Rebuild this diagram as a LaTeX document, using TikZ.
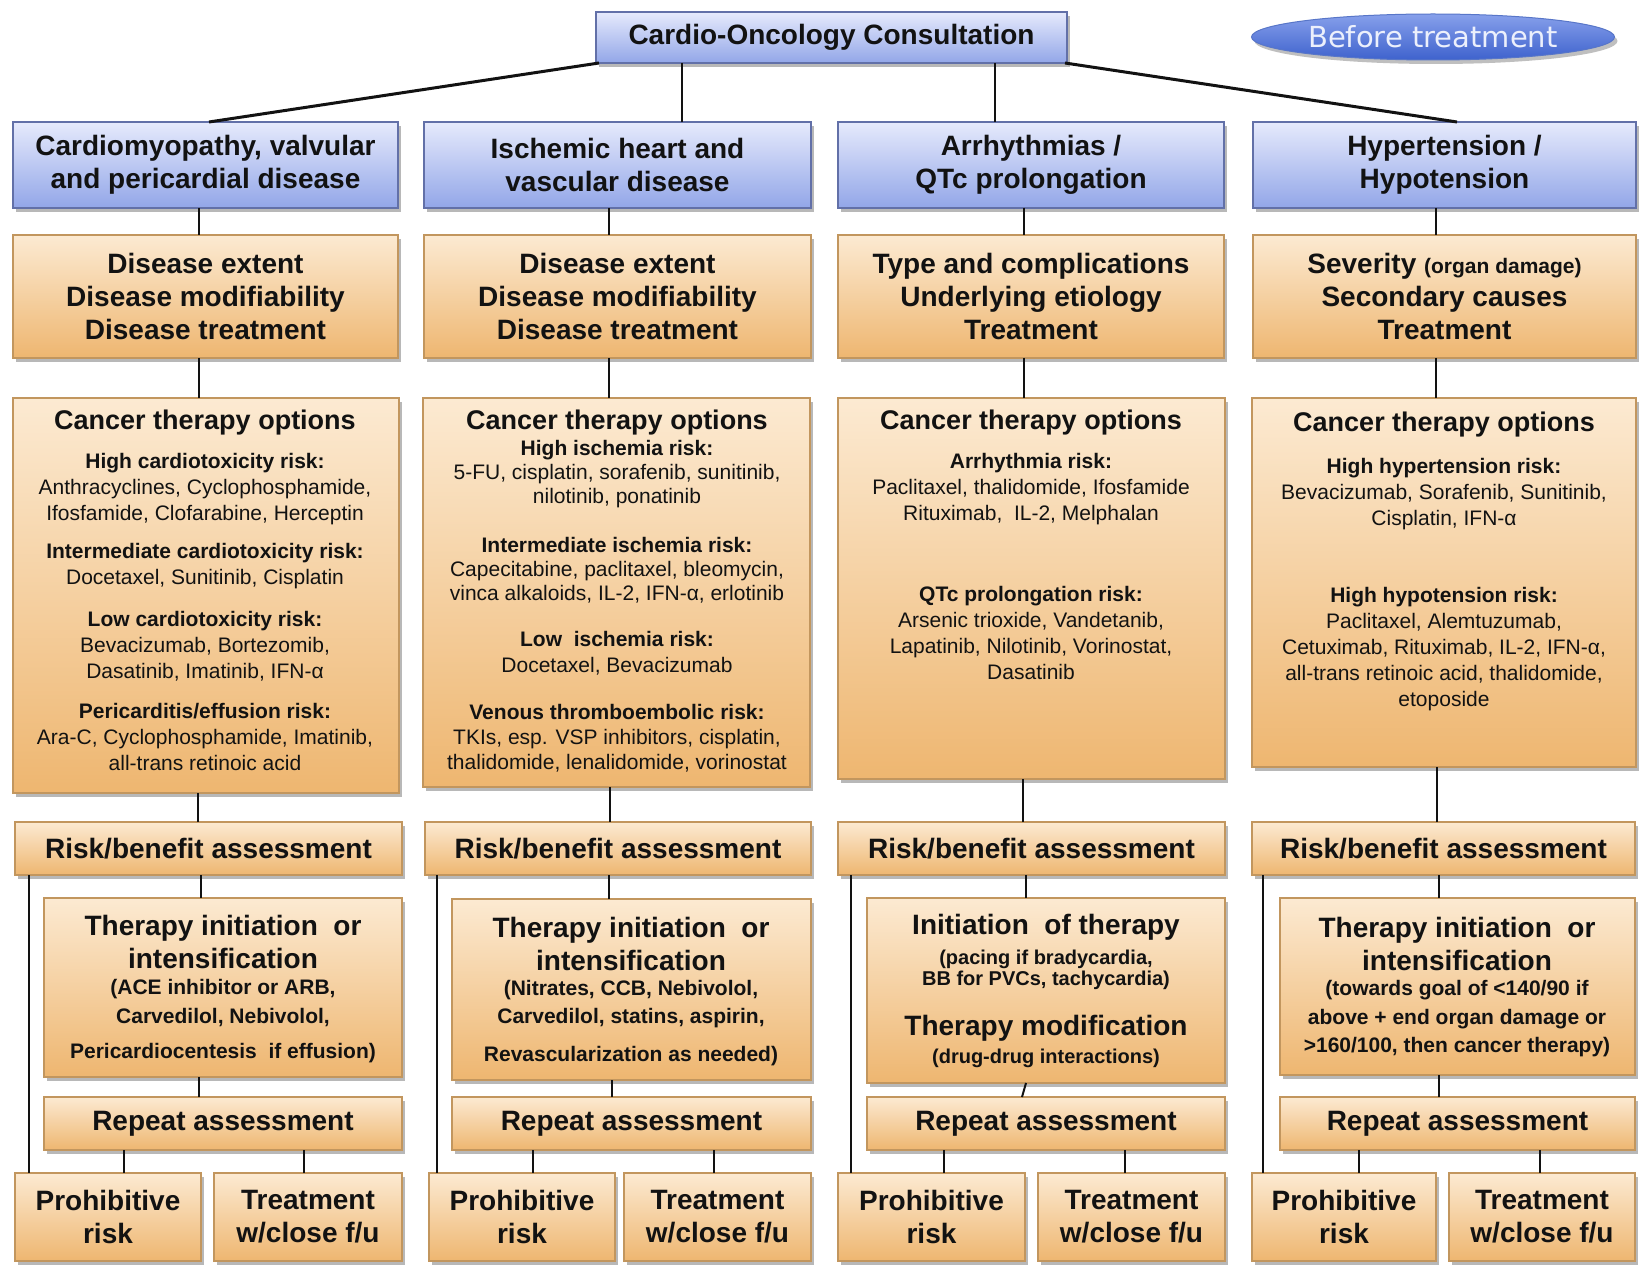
\documentclass[tikz,border=0pt]{standalone}
\usepackage{fontspec}
\setmainfont{Liberation Sans}
\newfontfamily\ovalfont{DejaVu Sans}
\usetikzlibrary{shapes.geometric,shadows}

\definecolor{blueTop}{RGB}{230,234,252}
\definecolor{blueBot}{RGB}{146,166,232}
\definecolor{blueEdge}{RGB}{98,112,168}
\definecolor{orTop}{RGB}{252,234,210}
\definecolor{orBot}{RGB}{238,182,112}
\definecolor{orEdge}{RGB}{194,150,94}
\definecolor{ink}{RGB}{18,18,18}
\definecolor{ellTop}{RGB}{135,160,235}
\definecolor{ellBot}{RGB}{62,98,205}
\definecolor{ellEdge}{RGB}{88,118,200}
\definecolor{ellText}{RGB}{236,240,252}

\tikzset{
  % box given by its corners: left/top/right/bottom
  boxat/.style args={#1/#2/#3/#4}{at={({(#1+#3)/2},{(#2+#4)/2})},
    minimum width={(#3-#1)*1pt}, minimum height={(#4-#2)*1pt}},
  boxbase/.style={rectangle, inner sep=0pt, outer sep=0pt, line width=1.2pt,
    text=ink, align=center,
    drop shadow={shadow xshift=3pt, shadow yshift=-4pt, fill=black, opacity=0.28}},
  bluebox/.style={boxbase, draw=blueEdge, top color=blueTop, bottom color=blueBot},
  orbox/.style={boxbase, draw=orEdge, top color=orTop, bottom color=orBot},
  big/.style={font=\fontsize{28}{33}\selectfont\bfseries},
  txt/.style={inner sep=0pt, align=center, text=ink},
  hd/.style={txt, font=\fontsize{27}{32}\selectfont\bfseries},
  bighd/.style={txt, font=\fontsize{28}{33}\selectfont\bfseries},
  sm/.style={txt, font=\fontsize{21}{26}\selectfont},
  smb/.style={txt, font=\fontsize{21}{28.5}\selectfont\bfseries},
  conn/.style={draw=ink, line width=2pt},
  diag/.style={draw=ink, line width=3pt},
}

\begin{document}
\begin{tikzpicture}[x=1pt, y=-1pt]
\fill[white] (0,0) rectangle (1639,1265);
\useasboundingbox (0,0) rectangle (1639,1265);

% ---------- top ----------
\node[bluebox, big, boxat=596/12/1067/63] (T) {Cardio-Oncology Consultation};
\node[ellipse, minimum width=363pt, minimum height=46pt, inner sep=0pt,
      draw=ellEdge, line width=1pt, top color=ellTop, bottom color=ellBot,
      drop shadow={shadow xshift=3pt, shadow yshift=-4pt, fill=black, opacity=0.25},
      text=ellText, font=\ovalfont\fontsize{29}{32}\selectfont] (E) at (1433,37) {Before treatment};

% ---------- row 1: disease groups ----------
\node[bluebox, big, boxat=13/122/398/208] (B1) {Cardiomyopathy, valvular\\and pericardial disease};
\node[bluebox, big, boxat=424/122/811/208] (B2) {Ischemic heart and\\vascular disease};
\node[bluebox, big, boxat=838/122/1224/208] (B3) {Arrhythmias /\\QTc prolongation};
\node[bluebox, big, boxat=1253/122/1636/208] (B4) {Hypertension /\\Hypotension};

% ---------- row 2: disease assessment ----------
\node[orbox, big, boxat=13/235/398/358] (D1) {Disease extent\\Disease modifiability\\Disease treatment};
\node[orbox, big, boxat=424/235/811/358] (D2) {Disease extent\\Disease modifiability\\Disease treatment};
\node[orbox, big, boxat=838/235/1224/358] (D3) {Type and complications\\Underlying etiology\\Treatment};
\node[orbox, big, boxat=1253/235/1636/358] (D4) {Severity {\fontsize{21}{24}\selectfont(organ damage)}\\Secondary causes\\Treatment};

% ---------- row 3: cancer therapy options ----------
\node[orbox, boxat=13/398/399/793] (C1) {};
\node[orbox, boxat=423/398/810/787] (C2) {};
\node[orbox, boxat=838/398/1225/779] (C3) {};
\node[orbox, boxat=1252/398/1636/767] (C4) {};

\node[hd] (c1h) at (205,423) {Cancer therapy options};
\node[sm] (c1a) at (205,489) {\textbf{High cardiotoxicity risk:}\\Anthracyclines, Cyclophosphamide,\\Ifosfamide, Clofarabine, Herceptin};
\node[sm] (c1b) at (205,566) {\textbf{Intermediate cardiotoxicity risk:}\\Docetaxel, Sunitinib, Cisplatin};
\node[sm] (c1c) at (205,646) {\textbf{Low cardiotoxicity risk:}\\Bevacizumab, Bortezomib,\\Dasatinib, Imatinib, IFN-α};
\node[sm] (c1d) at (205,737) {\textbf{Pericarditis/effusion risk:}\\Ara-C, Cyclophosphamide, Imatinib,\\all-trans retinoic acid};

\node[hd] (c2h) at (617,423) {Cancer therapy options};
\node[sm, font=\fontsize{21}{24}\selectfont] (c2a) at (617,474) {\textbf{High ischemia risk:}\\5-FU, cisplatin, sorafenib, sunitinib,\\nilotinib, ponatinib};
\node[sm, font=\fontsize{21}{24}\selectfont] (c2b) at (617,570) {\textbf{Intermediate ischemia risk:}\\Capecitabine, paclitaxel, bleomycin,\\vinca alkaloids, IL-2, IFN-α, erlotinib};
\node[sm] (c2c) at (617,653) {\textbf{Low\ \ ischemia risk:}\\Docetaxel, Bevacizumab};
\node[sm, font=\fontsize{21}{25}\selectfont] (c2d) at (617,738) {\textbf{Venous thromboembolic risk:}\\TKIs, esp. VSP inhibitors, cisplatin,\\thalidomide, lenalidomide, vorinostat};

\node[hd] (c3h) at (1031,423) {Cancer therapy options};
\node[sm] (c3a) at (1031,489) {\textbf{Arrhythmia risk:}\\Paclitaxel, thalidomide, Ifosfamide\\Rituximab,\ \ IL-2, Melphalan};
\node[sm] (c3b) at (1031,633) {\textbf{QTc prolongation risk:}\\Arsenic trioxide, Vandetanib,\\Lapatinib, Nilotinib, Vorinostat,\\Dasatinib};

\node[hd] (c4h) at (1444,425) {Cancer therapy options};
\node[sm] (c4a) at (1444,494) {\textbf{High hypertension risk:}\\Bevacizumab, Sorafenib, Sunitinib,\\Cisplatin, IFN-α};
\node[sm] (c4b) at (1444,649) {\textbf{High hypotension risk:}\\Paclitaxel, Alemtuzumab,\\Cetuximab, Rituximab, IL-2, IFN-α,\\all-trans retinoic acid, thalidomide,\\etoposide};

% ---------- row 4: risk/benefit ----------
\node[orbox, big, boxat=15/822/402/875] (R1) {Risk/benefit assessment};
\node[orbox, big, boxat=425/822/811/875] (R2) {Risk/benefit assessment};
\node[orbox, big, boxat=838/822/1225/875] (R3) {Risk/benefit assessment};
\node[orbox, big, boxat=1252/822/1635/875] (R4) {Risk/benefit assessment};

% ---------- row 5: therapy ----------
\node[orbox, boxat=44/898/402/1077] (Th1) {};
\node[orbox, boxat=452/899/811/1080] (Th2) {};
\node[orbox, boxat=867/898/1225/1083] (Th3) {};
\node[orbox, boxat=1280/898/1635/1075] (Th4) {};

\node[bighd] (t1a) at (223,942) {Therapy initiation\ \ or\\intensification};
\node[smb] (t1b) at (223,1003) {(ACE inhibitor or ARB,\\Carvedilol, Nebivolol,};
\node[smb] (t1c) at (223,1053) {Pericardiocentesis\ \ if effusion)};

\node[bighd] (t2a) at (631,944) {Therapy initiation\ \ or\\intensification};
\node[smb] (t2b) at (631,1004) {(Nitrates, CCB, Nebivolol,\\Carvedilol, statins, aspirin,};
\node[smb] (t2c) at (631,1056) {Revascularization as needed)};

\node[bighd] (t3a) at (1046,927) {Initiation\ \ of therapy};
\node[smb, font=\fontsize{20}{21}\selectfont\bfseries] (t3b) at (1046,970) {(pacing if bradycardia,\\BB for PVCs, tachycardia)};
\node[bighd] (t3c) at (1046,1028) {Therapy modification};
\node[smb, font=\fontsize{20}{22}\selectfont\bfseries] (t3d) at (1046,1058) {(drug-drug interactions)};

\node[bighd] (t4a) at (1457,944) {Therapy initiation\ \ or\\intensification};
\node[smb] (t4b) at (1457,1019) {(towards goal of <140/90 if\\above + end organ damage or\\>160/100, then cancer therapy)};

% ---------- row 6: repeat ----------
\node[orbox, big, boxat=44/1097/402/1150] (Rp1) {Repeat assessment};
\node[orbox, big, boxat=452/1097/811/1150] (Rp2) {Repeat assessment};
\node[orbox, big, boxat=867/1097/1225/1150] (Rp3) {Repeat assessment};
\node[orbox, big, boxat=1280/1097/1635/1150] (Rp4) {Repeat assessment};

% ---------- row 7: outcomes ----------
\node[orbox, big, boxat=15/1173/201/1261] (P1) {Prohibitive\\risk};
\node[orbox, big, boxat=214/1173/402/1261] (F1) {Treatment\\w/close f/u};
\node[orbox, big, boxat=429/1173/615/1261] (P2) {Prohibitive\\risk};
\node[orbox, big, boxat=624/1173/811/1261] (F2) {Treatment\\w/close f/u};
\node[orbox, big, boxat=838/1173/1025/1261] (P3) {Prohibitive\\risk};
\node[orbox, big, boxat=1038/1173/1225/1261] (F3) {Treatment\\w/close f/u};
\node[orbox, big, boxat=1252/1173/1436/1261] (P4) {Prohibitive\\risk};
\node[orbox, big, boxat=1449/1173/1635/1261] (F4) {Treatment\\w/close f/u};

% ---------- connectors ----------
\draw[diag] ([xshift=3pt]T.south west) -- (209,0 |- B1.north);
\draw[conn] (682,0 |- T.south) -- (682,0 |- B2.north);
\draw[conn] (995,0 |- T.south) -- (995,0 |- B3.north);
\draw[diag] ([xshift=-2pt]T.south east) -- (1457,0 |- B4.north);

\draw[conn] (199,0 |- B1.south) -- (199,0 |- D1.north);
\draw[conn] (609,0 |- B2.south) -- (609,0 |- D2.north);
\draw[conn] (1024,0 |- B3.south) -- (1024,0 |- D3.north);
\draw[conn] (1436,0 |- B4.south) -- (1436,0 |- D4.north);

\draw[conn] (199,0 |- D1.south) -- (199,0 |- C1.north);
\draw[conn] (609,0 |- D2.south) -- (609,0 |- C2.north);
\draw[conn] (1024,0 |- D3.south) -- (1024,0 |- C3.north);
\draw[conn] (1436,0 |- D4.south) -- (1436,0 |- C4.north);

\draw[conn] (198,0 |- C1.south) -- (198,0 |- R1.north);
\draw[conn] (610,0 |- C2.south) -- (610,0 |- R2.north);
\draw[conn] (1023,0 |- C3.south) -- (1023,0 |- R3.north);
\draw[conn] (1437,0 |- C4.south) -- (1437,0 |- R4.north);

\draw[conn] (201,0 |- R1.south) -- (201,0 |- Th1.north);
\draw[conn] (609,0 |- R2.south) -- (609,0 |- Th2.north);
\draw[conn] (1026,0 |- R3.south) -- (1026,0 |- Th3.north);
\draw[conn] (1439,0 |- R4.south) -- (1439,0 |- Th4.north);

\draw[conn] (199,0 |- Th1.south) -- (199,0 |- Rp1.north);
\draw[conn] (612,0 |- Th2.south) -- (612,0 |- Rp2.north);
\draw[conn] (1026,0 |- Th3.south) -- (1022,0 |- Rp3.north);
\draw[conn] (1439,0 |- Th4.south) -- (1439,0 |- Rp4.north);

\draw[conn] (124,0 |- Rp1.south) -- (124,0 |- P1.north);
\draw[conn] (304,0 |- Rp1.south) -- (304,0 |- F1.north);
\draw[conn] (533,0 |- Rp2.south) -- (533,0 |- P2.north);
\draw[conn] (714,0 |- Rp2.south) -- (714,0 |- F2.north);
\draw[conn] (944,0 |- Rp3.south) -- (944,0 |- P3.north);
\draw[conn] (1125,0 |- Rp3.south) -- (1125,0 |- F3.north);
\draw[conn] (1359,0 |- Rp4.south) -- (1359,0 |- P4.north);
\draw[conn] (1540,0 |- Rp4.south) -- (1540,0 |- F4.north);

\draw[conn] (29,0 |- R1.south) -- (29,0 |- P1.north);
\draw[conn] (437,0 |- R2.south) -- (437,0 |- P2.north);
\draw[conn] (851,0 |- R3.south) -- (851,0 |- P3.north);
\draw[conn] (1263,0 |- R4.south) -- (1263,0 |- P4.north);
\end{tikzpicture}
\end{document}
